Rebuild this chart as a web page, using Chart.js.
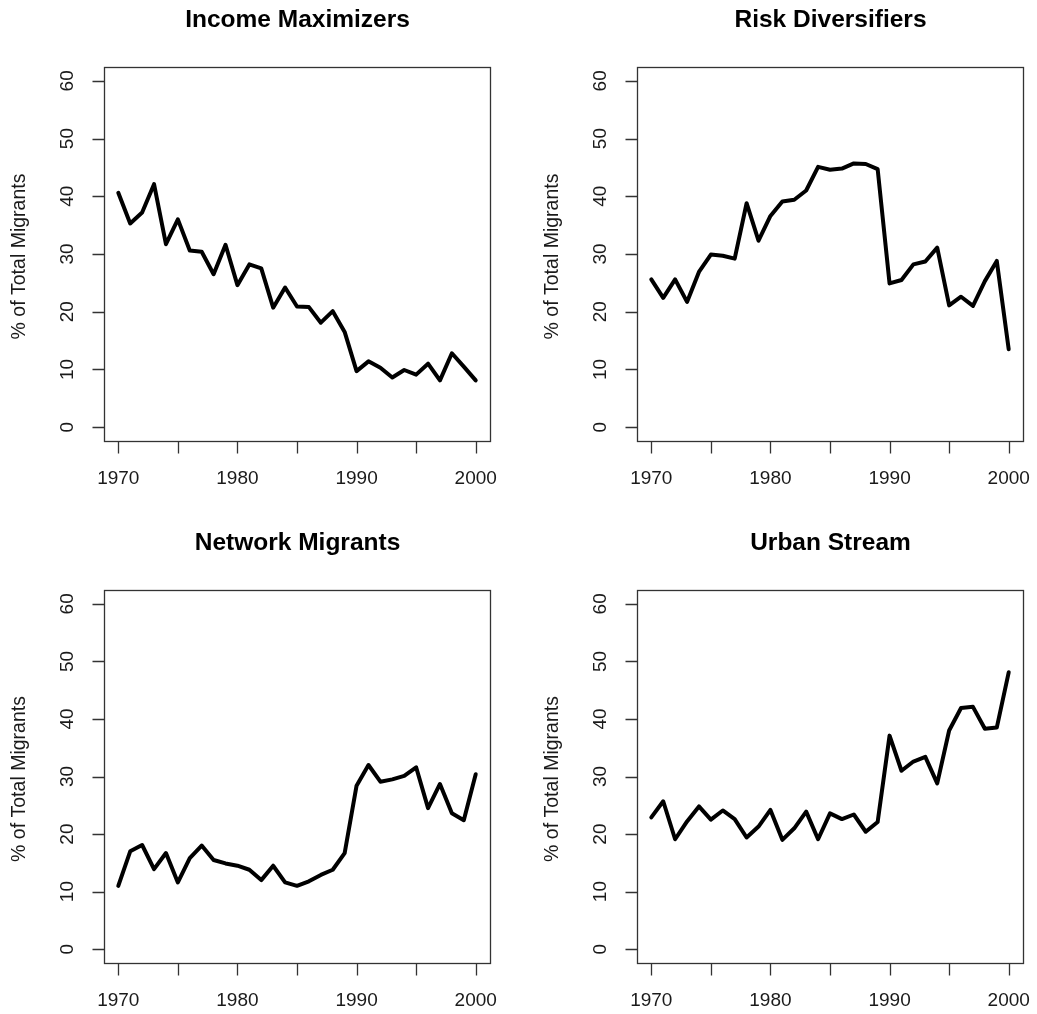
<!DOCTYPE html>
<html>
<head>
<meta charset="utf-8">
<script src="https://cdn.jsdelivr.net/npm/chart.js@4/dist/chart.umd.min.js"></script>
<style>
  html, body { margin: 0; padding: 0; background: #fff; }
  #page { position: relative; width: 1037px; height: 1014px; overflow: hidden; }
  canvas { position: absolute; }
</style>
</head>
<body>
<div id="page">
  <canvas id="c0"></canvas>
  <canvas id="c1"></canvas>
  <canvas id="c2"></canvas>
  <canvas id="c3"></canvas>
</div>
<script>
// 年份
const years = [1970, 1971, 1972, 1973, 1974, 1975, 1976, 1977, 1978, 1979,
  1980, 1981, 1982, 1983, 1984, 1985, 1986, 1987, 1988, 1989,
  1990, 1991, 1992, 1993, 1994, 1995, 1996, 1997, 1998, 1999, 2000];

// 各类移民所占百分比
const incomeMaximizers = [40.6, 35.3, 37.2, 42.1, 31.7, 36.0, 30.6, 30.4, 26.5, 31.6,
  24.6, 28.2, 27.5, 20.7, 24.2, 20.9, 20.8, 18.1, 20.1, 16.5,
  9.7, 11.4, 10.3, 8.6, 9.9, 9.1, 11.0, 8.1, 12.8, 10.5, 8.1];

const riskDiversifiers = [25.6, 22.4, 25.6, 21.7, 26.9, 29.9, 29.7, 29.2, 38.8, 32.3,
  36.6, 39.1, 39.4, 41.0, 45.1, 44.6, 44.8, 45.7, 45.6, 44.7,
  24.9, 25.5, 28.2, 28.7, 31.1, 21.1, 22.6, 21.0, 25.3, 28.8, 13.5];

const networkMigrants = [11.0, 17.0, 18.1, 13.9, 16.7, 11.6, 15.8, 18.0, 15.5, 14.9,
  14.5, 13.8, 12.0, 14.5, 11.6, 11.0, 11.8, 12.9, 13.8, 16.7,
  28.4, 32.0, 29.1, 29.5, 30.1, 31.6, 24.5, 28.7, 23.6, 22.4, 30.4];

const urbanStream = [22.9, 25.7, 19.1, 22.2, 24.8, 22.5, 24.1, 22.6, 19.4, 21.3,
  24.2, 19.0, 21.0, 23.9, 19.1, 23.6, 22.6, 23.4, 20.4, 22.1,
  37.1, 31.0, 32.6, 33.4, 28.8, 38.0, 41.9, 42.1, 38.3, 38.5, 48.1];

// 刻度
const xTicks = [1970, 1980, 1990, 2000];
const xMinorTicks = [1970, 1975, 1980, 1985, 1990, 1995, 2000];
const yTicks = [0, 10, 20, 30, 40, 50, 60];

const titles = ['Income Maximizers', 'Risk Diversifiers', 'Network Migrants', 'Urban Stream'];
const yTitle = '% of Total Migrants';

const panels = [
  { id: 'c0', title: titles[0], values: incomeMaximizers, col: 0, row: 0 },
  { id: 'c1', title: titles[1], values: riskDiversifiers, col: 1, row: 0 },
  { id: 'c2', title: titles[2], values: networkMigrants, col: 0, row: 1 },
  { id: 'c3', title: titles[3], values: urbanStream, col: 1, row: 1 }
];

const FONT = '"Liberation Sans", Arial, Helvetica, sans-serif';

// 画边框、刻度、标签和标题
const framePlugin = {
  id: 'rFrame',
  afterDraw(chart, args, opts) {
    const ctx = chart.ctx;
    const a = chart.chartArea;
    const xs = chart.scales.x;
    const ys = chart.scales.y;
    const L = Math.round(a.left) + 0.5, R = Math.round(a.right) + 0.5;
    const T = Math.round(a.top) + 0.5, B = Math.round(a.bottom) + 0.5;
    ctx.save();
    ctx.strokeStyle = '#333';
    ctx.lineWidth = 1.3;
    ctx.strokeRect(L, T, R - L, B - T);

    // x 刻度
    ctx.beginPath();
    xMinorTicks.forEach(v => {
      const px = Math.round(xs.getPixelForValue(v)) + 0.5;
      ctx.moveTo(px, B);
      ctx.lineTo(px, B + 12);
    });
    // y 刻度
    yTicks.forEach(v => {
      const py = Math.round(ys.getPixelForValue(v)) + 0.5;
      ctx.moveTo(L, py);
      ctx.lineTo(L - 12, py);
    });
    ctx.stroke();

    ctx.fillStyle = '#1a1a1a';
    ctx.font = '19px ' + FONT;
    ctx.textAlign = 'center';
    ctx.textBaseline = 'middle';
    xTicks.forEach(v => {
      ctx.fillText(String(v), xs.getPixelForValue(v), B + 37);
    });
    yTicks.forEach(v => {
      ctx.save();
      ctx.translate(L - 37, ys.getPixelForValue(v));
      ctx.rotate(-Math.PI / 2);
      ctx.fillText(String(v), 0, 0);
      ctx.restore();
    });

    // y 轴标题
    ctx.save();
    ctx.font = '19.5px ' + FONT;
    ctx.translate(L - 85, (T + B) / 2 + 2);
    ctx.rotate(-Math.PI / 2);
    ctx.fillText(yTitle, 0, 0);
    ctx.restore();

    // 图标题
    ctx.fillStyle = '#000';
    ctx.font = 'bold 24.5px ' + FONT;
    ctx.textBaseline = 'alphabetic';
    ctx.fillText(opts.text, (L + R) / 2, T - 41);
    ctx.restore();
  }
};

panels.forEach(p => {
  const cv = document.getElementById(p.id);
  const w = p.col === 0 ? 518 : 519;
  const h = 507;
  cv.width = w;
  cv.height = h;
  cv.style.left = (p.col * 518) + 'px';
  cv.style.top = (p.row * 507) + 'px';
  cv.style.width = w + 'px';
  cv.style.height = h + 'px';

  const pad = {
    left: p.col === 0 ? 104 : 119,
    right: p.col === 0 ? 28 : 14,
    top: p.row === 0 ? 67 : 83,
    bottom: p.row === 0 ? 66 : 51
  };

  new Chart(cv.getContext('2d'), {
    type: 'line',
    data: {
      datasets: [{
        data: years.map((yr, i) => ({ x: yr, y: p.values[i] })),
        borderColor: '#000',
        borderWidth: 4,
        borderJoinStyle: 'round',
        borderCapStyle: 'round',
        pointRadius: 0,
        tension: 0,
        fill: false
      }]
    },
    options: {
      responsive: false,
      animation: false,
      devicePixelRatio: 1,
      layout: { padding: pad },
      scales: {
        x: { type: 'linear', min: 1968.8, max: 2001.2, display: false },
        y: { type: 'linear', min: -2.4, max: 62.4, display: false }
      },
      plugins: {
        legend: { display: false },
        tooltip: { enabled: false },
        rFrame: { text: p.title }
      }
    },
    plugins: [framePlugin]
  });
});
</script>
</body>
</html>
